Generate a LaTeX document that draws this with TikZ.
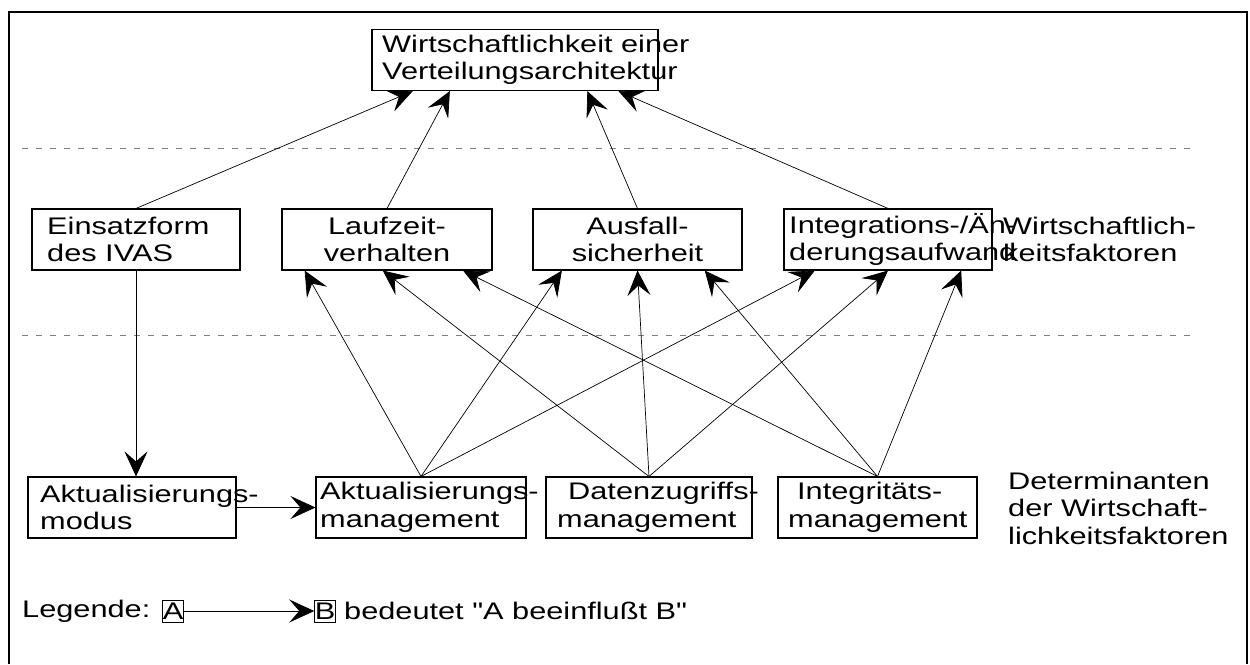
\documentclass[tikz,border=0pt]{standalone}
\usepackage{fontspec}
\newfontfamily\diafont[FakeStretch=1.28]{Liberation Sans}
\usetikzlibrary{arrows.meta,calc}
\begin{document}
\begin{tikzpicture}[x=1pt,y=-1pt,
  box/.style={draw, line width=1.1pt, inner sep=0pt, minimum height=61pt},
  txt/.style={inner sep=0pt, align=left, anchor=west, font=\diafont\fontsize{24}{27.5}\selectfont},
  conn/.style={line width=0.7pt, -{Stealth[length=25pt,width=23pt,inset=10pt]}},
  sep/.style={gray, dash pattern=on 6pt off 8pt, line width=1pt},
  frame/.style={line width=2.5pt, line join=miter},
  lbox/.style={draw, line width=1pt, inner sep=0pt, minimum width=20pt, minimum height=22pt, font=\diafont\fontsize{24}{27}\selectfont}]
\useasboundingbox (0,0) rectangle (1250,664);
\draw[frame] (9,664) -- (9,12) -- (1247,12) -- (1247,664);
\draw[sep] (22,148) -- (1190,148);
\draw[sep] (22,335) -- (1190,335);
% top
\node[box, minimum width=286pt] (top) at (515,60) {};
\node[txt] (topt) at (382,60) {Wirtschaftlichkeit einer\\Verteilungsarchitektur};
% middle
\node[box, minimum width=208pt] (ein) at (136,239.5) {};
\node[txt] (eint) at (47,239.5) {Einsatzform\\des IVAS};
\node[box, minimum width=210pt] (lz) at (387,239.5) {};
\node[txt, anchor=center, align=center] (lzt) at (387,239.5) {Laufzeit-\\verhalten};
\node[box, minimum width=209pt] (af) at (637.5,239.5) {};
\node[txt, anchor=center, align=center] (aft) at (637.5,239.5) {Ausfall-\\sicherheit};
\node[box, minimum width=208pt] (ia) at (888,239.5) {};
\node[txt] (iat) at (789,239.5) {Integrations-/Än-\\derungsaufwand};
\node[txt] (wf) at (1003,239.5) {Wirtschaftlich-\\keitsfaktoren};
% bottom
\node[box, minimum width=208pt] (amod) at (132,507.5) {};
\node[txt] (amodt) at (40,507.5) {Aktualisierungs-\\modus};
\node[box, minimum width=210pt] (am) at (421,507.5) {};
\node[txt] (amt) at (320,507.5) {Aktualisierungs-\\management};
\node[box, minimum width=206pt] (dz) at (649,507.5) {};
\node[txt] (dzt) at (557,507.5) {\hspace*{11pt}Datenzugriffs-\\management};
\node[box, minimum width=199pt] (im) at (877.5,507.5) {};
\node[txt] (imt) at (788,507.5) {\hspace*{9pt}Integritäts-\\management};
\node[txt] (det) at (1008,508) {Determinanten\\der Wirtschaft-\\lichkeitsfaktoren};
% connectors to top
\draw[conn] (ein.north) -- ($(top.south west)!0.144!(top.south east)$);
\draw[conn] (lz.north) -- ($(top.south west)!0.273!(top.south east)$);
\draw[conn] (af.north) -- ($(top.south west)!0.752!(top.south east)$);
\draw[conn] (ia.north) -- ($(top.south west)!0.860!(top.south east)$);
% left chain
\draw[conn] (ein.south) -- (ein.south |- amod.north);
\draw[conn] (amod.east) -- (am.west);
% determinants
\draw[conn] (am.north) -- ($(lz.south west)!0.11!(lz.south east)$);
\draw[conn] (am.north) -- ($(af.south west)!0.14!(af.south east)$);
\draw[conn] (am.north) -- ($(ia.south west)!0.15!(ia.south east)$);
\draw[conn] (dz.north) -- ($(lz.south west)!0.48!(lz.south east)$);
\draw[conn] (dz.north) -- ($(af.south west)!0.50!(af.south east)$);
\draw[conn] (dz.north) -- ($(ia.south west)!0.50!(ia.south east)$);
\draw[conn] (im.north) -- ($(lz.south west)!0.86!(lz.south east)$);
\draw[conn] (im.north) -- ($(af.south west)!0.82!(af.south east)$);
\draw[conn] (im.north) -- ($(ia.south west)!0.85!(ia.south east)$);
% legend
\node[txt] (leg) at (22,611) {Legende:};
\node[lbox] (la) at (173,611) {A};
\node[lbox] (lb) at (325,611) {B};
\draw[conn] (la) -- (lb);
\node[txt] (legt) at (344,611) {bedeutet "A beeinflußt B"};
\end{tikzpicture}
\end{document}
